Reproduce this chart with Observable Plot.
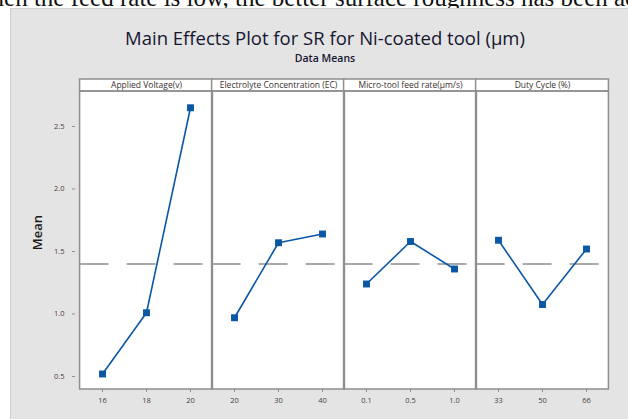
<!DOCTYPE html>
<html>
<head>
<meta charset="utf-8">
<script src="https://cdn.jsdelivr.net/npm/d3@7"></script>
<script src="https://cdn.jsdelivr.net/npm/@observablehq/plot@0.6"></script>
<style>
  html, body { margin: 0; padding: 0; background: #ffffff; }
  #page { position: relative; width: 628px; height: 419px; overflow: hidden; background: #fff; }
  #topline { position: absolute; left: 0; top: -15px; white-space: nowrap; line-height: 25px;
    font-family: "Liberation Serif", serif; font-size: 25px; color: #111; }
  #panel { position: absolute; left: 10px; top: 8px; width: 640px; height: 420px;
    background: #e4e4e4; border-left: 1px solid #d0d0d0; border-top: 1px solid #d0d0d0; }
  #title { position: absolute; left: 0; width: 650px; top: 25px; text-align: center;
    font-family: "Open Sans", sans-serif; font-size: 18.5px; color: #161630; }
  #subtitle { position: absolute; left: 0; width: 650px; top: 51px; text-align: center;
    font-family: "Open Sans", sans-serif; font-size: 10.5px; font-weight: 600; color: #161630; }
  #chart { position: absolute; left: 0; top: 70px; }
</style>
</head>
<body>
<div id="page">
  <div id="topline"><span id="pre">When the feed rate is low, the better surface roughness has been </span><span>achieved</span></div>
  <div id="panel"></div>
  <div id="title">Main Effects Plot for SR for Ni-coated tool (μm)</div>
  <div id="subtitle">Data Means</div>
  <div id="chart"></div>
</div>
<script>
const factors = ["Applied Voltage(v)", "Electrolyte Concentration (EC)", "Micro-tool feed rate(μm/s)", "Duty Cycle (%)"];
const voltageLevels = ["16", "18", "20"];
const concentrationLevels = ["20", "30", "40"];
const feedLevels = ["0.1", "0.5", "1.0"];
const dutyLevels = ["33", "50", "66"];
const voltageMeans = [0.52, 1.01, 2.65];
const concentrationMeans = [0.97, 1.57, 1.64];
const feedMeans = [1.24, 1.58, 1.36];
const dutyMeans = [1.59, 1.076, 1.52];
const grandMean = 1.40;
const yTicks = [0.5, 1.0, 1.5, 2.0, 2.5];

// place the clipped document line so that its last visible word starts near the right edge
const pre = document.getElementById("pre");
document.getElementById("topline").style.left = (614 - pre.getBoundingClientRect().width) + "px";

const levelSets = [voltageLevels, concentrationLevels, feedLevels, dutyLevels];
const meanSets = [voltageMeans, concentrationMeans, feedMeans, dutyMeans];

const rows = [];
const panels = factors.map((f, i) => {
  const keys = levelSets[i].map(l => f + "|" + l);
  levelSets[i].forEach((l, j) => rows.push({factor: f, level: l, key: keys[j], mean: meanSets[i][j]}));
  return {factor: f, first: keys[0], mid: keys[1], last: keys[keys.length - 1], mean: grandMean};
});
const keys = rows.map(d => d.key);

const W = 628, H = 349, ML = 75, MR = 15, MT = 21, MB = 30;
const half = (W - ML - MR) / keys.length / 2;
const yDomain = [0.396, 2.78];
const blue = "#0a57a6";
const grey = "#8e8e8e";

const chart = Plot.plot({
  width: W, height: H,
  marginLeft: ML, marginRight: MR, marginTop: MT, marginBottom: MB,
  style: {background: "transparent", fontFamily: "Open Sans, sans-serif", overflow: "visible"},
  x: {type: "point", domain: keys, padding: 0.5, axis: null},
  y: {domain: yDomain, axis: null},
  marks: [
    Plot.rect(panels, {x1: "first", x2: "last", insetLeft: -half, insetRight: -half, fill: "white"}),
    Plot.rect(panels, {x1: "first", x2: "last", y1: () => yDomain[1], y2: () => yDomain[1], insetTop: -12,
      insetLeft: -half, insetRight: -half, fill: "white", stroke: grey, strokeWidth: 1.5}),
    Plot.text(panels, {x: "mid", y: () => yDomain[1], dy: -6, text: "factor", fontSize: 8.5, fill: "#3a3030"}),
    Plot.ruleY(panels, {x1: "first", x2: "last", y: "mean", insetLeft: -half, insetRight: -half,
      stroke: grey, strokeWidth: 1.6, strokeDasharray: "29,18"}),
    Plot.line(rows, {x: "key", y: "mean", z: "factor", stroke: blue, strokeWidth: 1.6}),
    Plot.dot(rows, {x: "key", y: "mean", symbol: "square", fill: blue, r: 3.9}),
    Plot.rect(panels, {x1: "first", x2: "last", insetLeft: -half, insetRight: -half, fill: "none", stroke: grey, strokeWidth: 1.5}),
    Plot.axisY(yTicks, {tickSize: 3, tickPadding: 8, fontSize: 7.5, tickFormat: d => d.toFixed(1), label: null, stroke: grey, color: "#4a4040"}),
    Plot.axisX({tickSize: 3, tickPadding: 5, fontSize: 7.5, tickFormat: d => d.split("|")[1], label: null, stroke: grey, color: "#4a4040"}),
    Plot.text(["Mean"], {frameAnchor: "left", dx: -38, dy: -8, rotate: -90, textAnchor: "middle", fontSize: 13, fontWeight: 600, fill: "#1a1a1a"})
  ]
});
document.getElementById("chart").appendChild(chart);
</script>
</body>
</html>
